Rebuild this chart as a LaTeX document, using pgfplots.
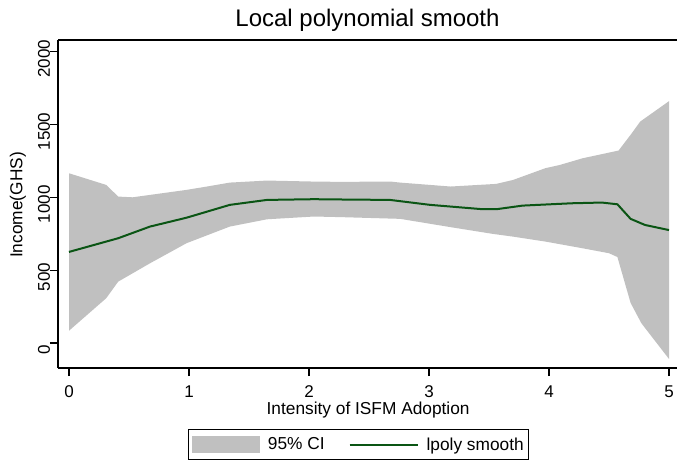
\documentclass[border=0pt]{standalone}
\usepackage{fontspec}
\setmainfont{Liberation Sans}
\usepackage{pgfplots}
\pgfplotsset{compat=1.18}
\definecolor{cigray}{RGB}{192,192,192}
\definecolor{lgreen}{RGB}{10,85,20}
\begin{document}
\begin{tikzpicture}[x=1pt,y=1pt]
\path[use as bounding box] (0,0) rectangle (677,464);
\begin{axis}[
  at={(58pt,96pt)}, anchor=south west,
  scale only axis, width=619pt, height=328pt,
  xmin=-0.0917, xmax=5.0667, ymin=-172, ymax=2080,
  axis x line*=bottom, axis y line*=left,
  axis line style={line width=1.3pt, black},
  xtick={0,1,2,3,4,5}, ytick={0,500,1000,1500,2000},
  tick align=outside, major tick length=8pt,
  tick style={line width=1.1pt, black},
  /pgf/number format/assume math mode=true,
  /pgf/number format/1000 sep={},
  ticklabel style={font=\fontsize{17}{20}\selectfont},
  xticklabel style={anchor=base, inner sep=0pt, yshift=-21pt},
  yticklabel style={rotate=90, anchor=base, inner sep=0pt, xshift=-7pt},
  title={Local polynomial smooth},
  title style={font=\fontsize{24}{28}\selectfont, at={(axis description cs:0.5,1.043)}, anchor=center},
  xlabel={Intensity of ISFM Adoption},
  xlabel style={font=\fontsize{17.3}{20}\selectfont, at={(axis description cs:0.501,-0.143)}, anchor=base},
  ylabel={Income(GHS)},
  ylabel style={font=\fontsize{17.3}{20}\selectfont, at={(axis description cs:-0.0646,0.497)}, anchor=center, rotate=0},
  legend columns=2,
  legend style={at={(axis description cs:0.486,-0.186)}, anchor=north,
    draw=black, line width=1pt, font=\fontsize{17.3}{20}\selectfont,
    inner xsep=3pt, inner ysep=6pt,
    /tikz/every odd column/.append style={column sep=6pt},
    /tikz/every even column/.append style={column sep=22pt}},
  legend cell align=left,
  clip=false,
]
\addplot[fill=cigray, draw=none,
  legend image code/.code={\fill[cigray] (0pt,-8.5pt) rectangle (68pt,8.5pt);}]
coordinates {
(0,1165) (0.31,1085) (0.41,1005) (0.53,1000) (0.98,1051) (1.15,1074) (1.34,1101)
(1.65,1115) (2.04,1108) (2.26,1106) (2.68,1108) (2.76,1101) (3.18,1074) (3.56,1092)
(3.7,1119) (3.97,1200) (4.09,1222) (4.28,1268) (4.58,1321) (4.69,1440) (4.76,1520) (5.0,1660)
(5.0,-110) (4.77,135) (4.68,275) (4.57,590) (4.5,616) (4.28,650) (3.97,696) (3.7,730)
(3.53,749) (3.18,795) (2.76,852) (2.26,864) (2.04,868) (1.65,849) (1.34,799) (0.98,685)
(0.675,547) (0.41,421) (0.31,307) (0,84)
} -- cycle;
\addlegendentry{95\% CI}
\addplot[lgreen, line width=2pt,
  legend image code/.code={\draw[lgreen, line width=2pt] (0pt,0pt) -- (68pt,0pt);}]
coordinates {
(0,625) (0.41,719) (0.675,799) (0.98,860) (1.34,948) (1.65,982) (2.04,987) (2.26,985)
(2.675,982) (3.01,948) (3.45,918) (3.56,918) (3.78,943) (4.19,959) (4.44,964) (4.57,952)
(4.68,852) (4.8,810) (5.0,775)
};
\addlegendentry{lpoly smooth}
\draw[line width=1.5pt, black] (rel axis cs:0,1) -- (rel axis cs:1,1);
\end{axis}
\end{tikzpicture}
\end{document}
